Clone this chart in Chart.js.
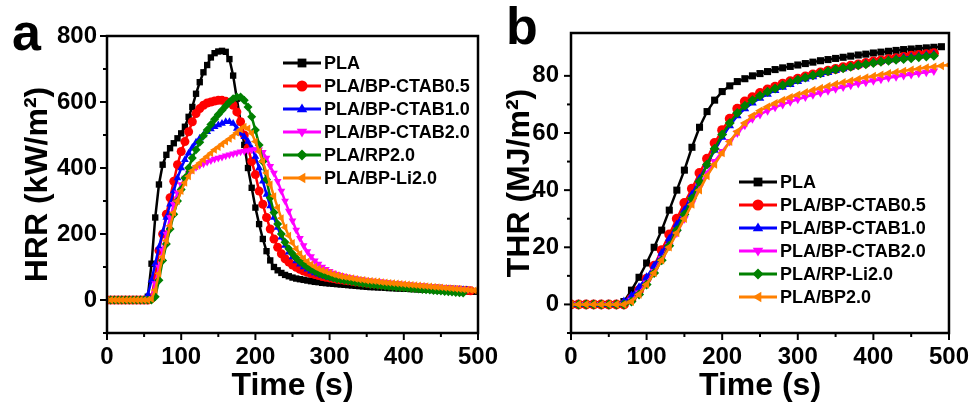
<!DOCTYPE html>
<html>
<head>
<meta charset="utf-8">
<script src="https://cdn.jsdelivr.net/npm/chart.js@4.4.0/dist/chart.umd.min.js"></script>
<style>
  body { margin: 0; background: #fff; }
  #wrap { position: relative; width: 979px; height: 405px; overflow: hidden; }
  #hrrChart { position: absolute; left: 0; top: 0; }
  #thrChart { position: absolute; left: 490px; top: 0; }
</style>
</head>
<body>
<div id="wrap">
  <canvas id="hrrChart" width="520" height="405"></canvas>
  <canvas id="thrChart" width="489" height="405"></canvas>
</div>
<script>
// ---- data: panel a (HRR, kW/m2), one reading every 5 s ----
const hrrTime = Array.from({ length: 101 }, (_, i) => i * 5);
const hrrLabels = ['PLA', 'PLA/BP-CTAB0.5', 'PLA/BP-CTAB1.0', 'PLA/BP-CTAB2.0', 'PLA/RP2.0', 'PLA/BP-Li2.0'];

const hrrPLA = [0, 0, 0, 0, 0, 0, 0, 0, 0, 0, 0,
  10, 110, 250, 350, 410, 440, 460, 475, 490,
  505, 525, 555, 585, 625, 660, 690, 712, 735, 748,
  753, 755, 752, 730, 680, 610, 540, 470, 400, 340,
  280, 230, 185, 148, 120, 100, 90, 82, 76, 72,
  68, 65, 63, 61, 59, 57, 55, 54, 52, 51,
  50, 49, 48, 47, 46, 45, 44, 43, 42, 41,
  40, 39, 39, 38, 38, 37, 36, 36, 35, 35,
  34, 34, 33, 33, 32, 32, 31, 31, 30, 30,
  29, 29, 28, 28, 27, 27, 26, 26, 25, 25];
const hrrCTAB05 = [0, 0, 0, 0, 0, 0, 0, 0, 0, 0, 0, 0,
  5, 70, 150, 200, 260, 310, 360, 410,
  450, 480, 510, 540, 565, 580, 590, 597, 600, 603,
  605, 605, 602, 598, 590, 570, 540, 500, 460, 420,
  380, 330, 290, 250, 215, 185, 160, 140, 125, 115,
  106, 99, 93, 88, 84, 80, 77, 74, 71, 69,
  67, 65, 63, 61, 60, 58, 57, 55, 54, 53,
  51, 50, 49, 48, 47, 46, 45, 44, 43, 42,
  41, 40, 39, 38, 37, 37, 36, 35, 34, 34,
  33, 32, 32, 31, 30, 30, 29, 29, 28];
const hrrCTAB10 = [0, 0, 0, 0, 0, 0, 0, 0, 0, 0, 0,
  15, 60, 110, 160, 205, 250, 290, 330, 370,
  400, 425, 445, 462, 478, 490, 500, 510, 518, 525,
  530, 535, 540, 540, 535, 520, 505, 495, 480, 460,
  435, 400, 360, 320, 285, 250, 220, 190, 165, 145,
  130, 118, 108, 100, 93, 87, 82, 78, 74, 71,
  68, 66, 64, 62, 60, 58, 57, 55, 54, 52,
  51, 50, 49, 48, 47, 46, 45, 44, 43, 42,
  41, 40, 39, 38, 38, 37, 36, 36, 35, 34,
  34, 33, 33, 32, 32, 31, 31, 30];
const hrrCTAB20 = [0, 0, 0, 0, 0, 0, 0, 0, 0, 0, 0, 0,
  5, 50, 100, 150, 200, 250, 290, 325,
  350, 370, 385, 395, 402, 408, 413, 418, 423, 427,
  430, 433, 437, 440, 443, 446, 449, 451, 453, 455,
  456, 455, 448, 430, 405, 385, 360, 330, 300, 270,
  240, 212, 187, 165, 147, 132, 119, 109, 100, 93,
  87, 82, 78, 75, 72, 69, 67, 65, 63, 61,
  60, 58, 57, 56, 55, 54, 52, 51, 50, 49,
  48, 47, 46, 45, 44, 43, 42, 41, 40, 39,
  38, 37, 36, 35, 34, 33, 32, 31];
const hrrRP20 = [0, 0, 0, 0, 0, 0, 0, 0, 0, 0, 0, 0, 0,
  10, 60, 120, 170, 215, 260, 300,
  335, 370, 400, 430, 455, 478, 498, 515, 532, 548,
  562, 575, 588, 600, 610, 615, 615, 605, 585, 555,
  515, 470, 420, 365, 310, 265, 230, 200, 175, 155,
  140, 127, 117, 108, 100, 93, 87, 82, 77, 73,
  70, 67, 64, 62, 60, 58, 56, 54, 52, 50,
  49, 47, 46, 45, 44, 42, 41, 40, 39, 38,
  37, 36, 35, 34, 33, 32, 31, 30, 29, 28,
  27, 26, 25, 24, 23, 22, 21];
const hrrLi20 = [0, 0, 0, 0, 0, 0, 0, 0, 0, 0, 0, 0,
  3, 30, 80, 130, 180, 225, 265, 300,
  330, 355, 375, 392, 405, 415, 425, 435, 445, 455,
  463, 472, 480, 488, 497, 507, 517, 525, 520, 505,
  480, 450, 420, 385, 350, 315, 280, 248, 220, 195,
  173, 155, 140, 127, 117, 108, 101, 95, 90, 86,
  82, 78, 75, 72, 70, 68, 66, 64, 62, 61,
  59, 58, 57, 56, 54, 53, 52, 51, 50, 49,
  48, 47, 46, 45, 44, 43, 42, 41, 40, 39,
  38, 37, 36, 35, 34, 33, 32, 31, 30, 29, 28];

// ---- data: panel b (THR, MJ/m2), one reading every 10 s ----
const thrTime = Array.from({ length: 51 }, (_, i) => i * 10);
const thrLabels = ['PLA', 'PLA/BP-CTAB0.5', 'PLA/BP-CTAB1.0', 'PLA/BP-CTAB2.0', 'PLA/RP-Li2.0', 'PLA/BP2.0'];

const thrPLA = [0, 0, 0, 0, 0, 0, 0, 1, 5, 9.5,
  14.5, 20, 26, 33, 40, 47, 55, 62, 67.5, 71.5,
  74.5, 76.5, 78, 79, 80, 80.8, 81.5, 82.2, 82.8, 83.3,
  83.8, 84.3, 84.8, 85.3, 85.7, 86.1, 86.5, 86.9, 87.3, 87.6,
  88, 88.3, 88.6, 88.9, 89.2, 89.4, 89.6, 89.8, 90, 90.2];
const thrCTAB05 = [0, 0, 0, 0, 0, 0, 0, 0, 2, 5,
  9, 13.5, 19, 24.5, 30, 35.5, 40.5, 46, 51, 56.5,
  61, 65, 68.5, 71, 72.5, 74, 75.2, 76.2, 77.2, 78.1,
  79, 79.8, 80.5, 81.2, 81.8, 82.4, 83, 83.5, 84, 84.5,
  85, 85.4, 85.8, 86.2, 86.6, 87, 87.3, 87.6, 87.9];
const thrCTAB10 = [0, 0, 0, 0, 0, 0, 0, 1, 3, 6,
  9.5, 13.5, 18, 23, 28, 33, 38.5, 44, 49, 54,
  58.5, 62.5, 66, 68.5, 70.5, 72.2, 73.6, 74.9, 76, 77,
  78, 78.9, 79.7, 80.5, 81.2, 81.9, 82.5, 83.1, 83.7, 84.2,
  84.7, 85.1, 85.5, 85.9, 86.3, 86.6, 86.9, 87.2, 87.5];
const thrCTAB20 = [0, 0, 0, 0, 0, 0, 0, 0, 1.5, 4,
  7.5, 11.5, 16, 20.5, 25, 30, 35.5, 41, 46, 50,
  53.5, 57, 60, 62.7, 65, 66.5, 67.8, 69, 70, 70.9,
  71.8, 72.6, 73.4, 74.1, 74.8, 75.5, 76.1, 76.7, 77.3, 77.8,
  78.3, 78.8, 79.3, 79.7, 80.1, 80.5, 80.9, 81.3, 81.7];
const thrRPLi20 = [0, 0, 0, 0, 0, 0, 0, 0, 1, 3.5,
  7, 11, 15.5, 20.5, 26, 31.5, 37, 43, 49, 54.5,
  59.5, 63.5, 67, 69.5, 71.5, 73, 74.4, 75.6, 76.7, 77.7,
  78.6, 79.4, 80.2, 80.9, 81.6, 82.2, 82.7, 83.2, 83.7, 84.1,
  84.5, 84.9, 85.3, 85.6, 85.9, 86.2, 86.5, 86.8, 87];
const thrBP20 = [0, 0, 0, 0, 0, 0, 0, 0, 1, 3.5,
  7, 11, 15.5, 20, 25, 30, 35, 40, 45, 49,
  53, 57, 60.5, 63.5, 66, 67.8, 69.2, 70.4, 71.5, 72.5,
  73.4, 74.2, 75, 75.7, 76.4, 77.1, 77.7, 78.3, 78.9, 79.4,
  79.9, 80.4, 80.9, 81.3, 81.7, 82.1, 82.5, 82.9, 83.2, 83.5, 83.8];

// series look, same order in both panels
const seriesColors = ['#000000', '#ff0000', '#0000ff', '#ff00ff', '#008000', '#ff8000'];
const seriesMarkers = ['rect', 'circle', 'triangle', 'triangle', 'rectRot', 'triangle'];
const seriesRotation = [0, 0, 0, 180, 0, -90];

const FONT = "'Liberation Sans', Arial, sans-serif";

// little marker painter for the legend
function drawMarker(ctx, style, rot, x, y, r) {
    ctx.save();
    ctx.translate(x, y);
    ctx.rotate(rot * Math.PI / 180);
    ctx.beginPath();
    if (style === 'rect') {
        ctx.rect(-r * 0.8, -r * 0.8, r * 1.6, r * 1.6);
    } else if (style === 'circle') {
        ctx.arc(0, 0, r, 0, Math.PI * 2);
    } else if (style === 'rectRot') {
        ctx.moveTo(0, -r); ctx.lineTo(r, 0); ctx.lineTo(0, r); ctx.lineTo(-r, 0); ctx.closePath();
    } else {
        ctx.moveTo(0, -r); ctx.lineTo(r * 0.95, r * 0.6); ctx.lineTo(-r * 0.95, r * 0.6); ctx.closePath();
    }
    ctx.fill();
    ctx.restore();
}

// frame, tick marks, legend and panel letter
const panelDeco = {
    id: 'panelDeco',
    afterDraw(chart, args, o) {
        const { ctx, chartArea: a, scales: { x, y } } = chart;
        ctx.save();
        ctx.strokeStyle = '#000';
        ctx.lineWidth = 2;
        x.ticks.forEach(t => {
            const px = x.getPixelForValue(t.value);
            const len = t.value % o.xMajor === 0 ? 7 : 4;
            ctx.beginPath(); ctx.moveTo(px, a.bottom); ctx.lineTo(px, a.bottom + len); ctx.stroke();
        });
        y.ticks.forEach(t => {
            if (t.value % o.yMinor !== 0) return;
            const py = y.getPixelForValue(t.value);
            const len = t.value % o.yMajor === 0 ? 7 : 4;
            ctx.beginPath(); ctx.moveTo(a.left, py); ctx.lineTo(a.left - len, py); ctx.stroke();
        });
        ctx.lineWidth = 2.5;
        ctx.strokeRect(a.left, a.top, a.right - a.left, a.bottom - a.top);

        // legend: line with marker, then name
        ctx.font = 'bold 18px ' + FONT;
        ctx.textBaseline = 'middle';
        chart.data.datasets.forEach((ds, i) => {
            const ly = o.legendY + i * 23;
            ctx.strokeStyle = ds.borderColor;
            ctx.fillStyle = ds.borderColor;
            ctx.lineWidth = 3;
            ctx.beginPath(); ctx.moveTo(o.legendX, ly); ctx.lineTo(o.legendX + 38, ly); ctx.stroke();
            drawMarker(ctx, ds.pointStyle, ds.pointRotation, o.legendX + 19, ly, 5.5);
            ctx.fillStyle = '#000';
            ctx.fillText(ds.label, o.legendX + 41, ly + 1);
        });

        ctx.font = 'bold 52px ' + FONT;
        ctx.textBaseline = 'alphabetic';
        ctx.fillText(o.letter, o.letterX, o.letterY);
        ctx.restore();
    }
};

function buildDatasets(labels, times, series, radius) {
    return series.map((vals, i) => ({
        label: labels[i],
        data: vals.map((v, k) => ({ x: times[k], y: v })),
        borderColor: seriesColors[i],
        backgroundColor: seriesColors[i],
        pointBackgroundColor: seriesColors[i],
        pointBorderColor: seriesColors[i],
        pointStyle: seriesMarkers[i],
        pointRotation: seriesRotation[i],
        pointRadius: radius,
        pointBorderWidth: 0,
        borderWidth: 2.5,
        order: series.length - i
    }));
}

function makeChart(id, cfg) {
    const tickFont = { family: FONT, size: 24, weight: 'bold' };
    const titleFont = { family: FONT, size: 32, weight: 'bold' };
    return new Chart(document.getElementById(id), {
        type: 'line',
        data: { datasets: cfg.datasets },
        options: {
            responsive: false,
            animation: false,
            devicePixelRatio: 1,
            layout: { padding: { left: 0, top: cfg.top, right: cfg.right, bottom: 0 } },
            plugins: {
                legend: { display: false },
                tooltip: { enabled: false },
                panelDeco: cfg.deco
            },
            scales: {
                x: {
                    type: 'linear', min: 0, max: 500,
                    afterFit: s => { s.height = 72; },
                    border: { display: false },
                    grid: { display: false, drawTicks: false },
                    ticks: {
                        stepSize: 50, autoSkip: false, maxRotation: 0, padding: 10,
                        color: '#000', font: tickFont,
                        callback: v => (v % 100 === 0 ? v : '')
                    },
                    title: { display: true, text: 'Time (s)', color: '#000', font: titleFont, padding: { top: 0, bottom: 0 } }
                },
                y: {
                    type: 'linear', min: cfg.yMin, max: cfg.yMax,
                    afterFit: s => { s.width = cfg.left; },
                    border: { display: false },
                    grid: { display: false, drawTicks: false },
                    ticks: {
                        stepSize: cfg.yStep, autoSkip: false, padding: cfg.yPad,
                        color: '#000', font: tickFont,
                        callback: v => (v >= 0 && v % cfg.yLabelStep === 0 ? v : '')
                    },
                    title: { display: true, text: cfg.yTitle, color: '#000', font: titleFont, padding: { top: cfg.titlePad, bottom: 0 } }
                }
            }
        },
        plugins: [panelDeco]
    });
}

// Panel a: heat release rate
makeChart('hrrChart', {
    datasets: buildDatasets(hrrLabels, hrrTime, [hrrPLA, hrrCTAB05, hrrCTAB10, hrrCTAB20, hrrRP20, hrrLi20], 4.5),
    left: 107, top: 36, right: 42,
    yMin: -100, yMax: 800, yStep: 100, yLabelStep: 200, yPad: 10,
    yTitle: 'HRR (kW/m²)', titlePad: 19,
    deco: { xMajor: 100, yMajor: 200, yMinor: 100, legendX: 283, legendY: 63, letter: 'a', letterX: 12, letterY: 50 }
});

// Panel b: total heat release
makeChart('thrChart', {
    datasets: buildDatasets(thrLabels, thrTime, [thrPLA, thrCTAB05, thrCTAB10, thrCTAB20, thrRPLi20, thrBP20], 5),
    left: 81, top: 33, right: 23,
    yMin: -10, yMax: 95, yStep: 10, yLabelStep: 20, yPad: 12,
    yTitle: 'THR (MJ/m²)', titlePad: 11,
    deco: { xMajor: 100, yMajor: 20, yMinor: 10, legendX: 249, legendY: 182, letter: 'b', letterX: 16, letterY: 44 }
});
</script>
</body>
</html>
